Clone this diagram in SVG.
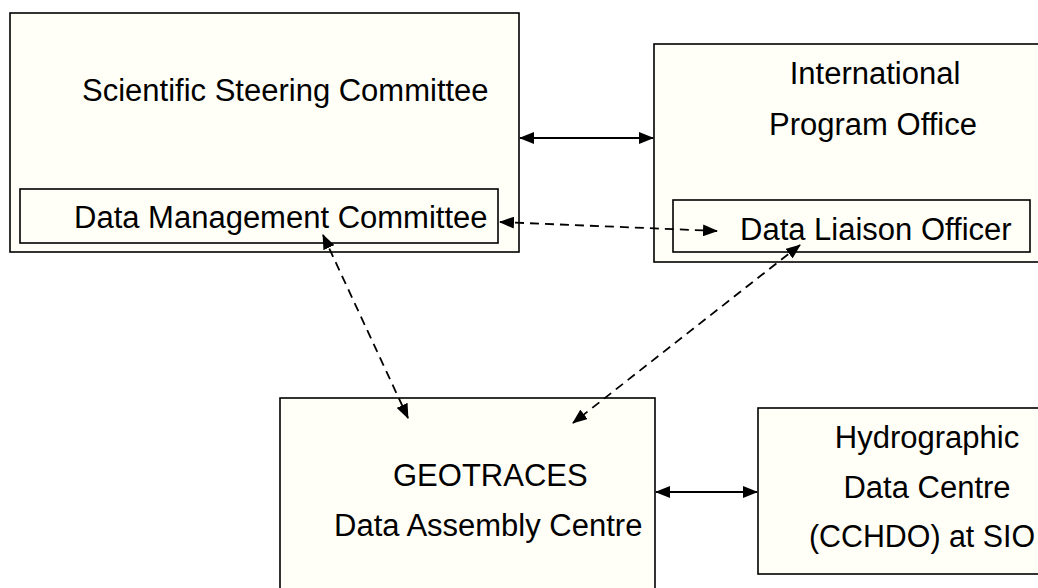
<svg xmlns="http://www.w3.org/2000/svg" width="1038" height="588" viewBox="0 0 1038 588">
<defs>
<style>
.box{fill:#fffff7;stroke:#000;stroke-width:1.6}
.t{font-family:"Liberation Sans",Arial,sans-serif;font-size:31px;fill:#000}
.c{text-anchor:middle}
.ln{stroke:#000;stroke-width:1.8;fill:none}
.d{stroke-dasharray:9 6}
</style>
<marker id="ah" markerUnits="userSpaceOnUse" markerWidth="15" markerHeight="12" viewBox="0 0 15 12" refX="14" refY="6" orient="auto-start-reverse">
<path d="M0,0 L15,6 L0,12 z" fill="#000"/>
</marker>
</defs>
<rect x="0" y="0" width="1038" height="588" fill="#fff"/>
<g id="ssc">
<rect class="box" x="10" y="13" width="509" height="239"/>
<text class="t" x="82" y="101">Scientific Steering Committee</text>
</g>
<g id="dmc">
<rect class="box" x="20" y="189" width="478" height="54"/>
<text class="t" x="74" y="228">Data Management Committee</text>
</g>
<g id="ipo">
<rect class="box" x="654" y="44" width="400" height="218"/>
<text class="t c" x="875" y="84">International</text>
<text class="t c" x="873" y="135">Program Office</text>
</g>
<g id="dlo">
<rect class="box" x="673" y="200" width="357" height="52"/>
<text class="t" x="740" y="240">Data Liaison Officer</text>
</g>
<g id="dac">
<rect class="box" x="280" y="398" width="375" height="210"/>
<text class="t" x="393" y="486">GEOTRACES</text>
<text class="t" x="334" y="536">Data Assembly Centre</text>
</g>
<g id="cchdo">
<rect class="box" x="758" y="408" width="300" height="166"/>
<text class="t c" x="927" y="448">Hydrographic</text>
<text class="t c" x="927" y="498">Data Centre</text>
<text class="t" x="809" y="547" textLength="226" lengthAdjust="spacingAndGlyphs">(CCHDO) at SIO</text>
</g>
<g id="connectors">
<line class="ln" x1="520" y1="138" x2="653" y2="138" marker-start="url(#ah)" marker-end="url(#ah)"/>
<line class="ln" x1="656" y1="492" x2="757" y2="492" marker-start="url(#ah)" marker-end="url(#ah)"/>
<line class="ln d" x1="500" y1="222" x2="717" y2="231" marker-start="url(#ah)" marker-end="url(#ah)"/>
<line class="ln d" x1="323" y1="235" x2="408" y2="418" marker-start="url(#ah)" marker-end="url(#ah)"/>
<line class="ln d" x1="800" y1="245" x2="573" y2="423" marker-start="url(#ah)" marker-end="url(#ah)"/>
</g>
</svg>
